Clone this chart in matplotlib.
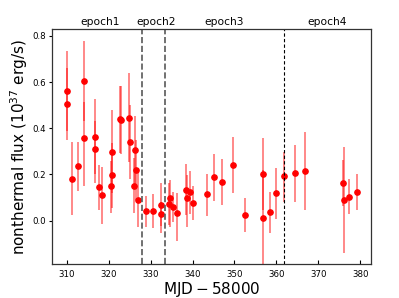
import matplotlib
matplotlib.use("Agg")
import matplotlib.pyplot as plt
import matplotlib.transforms as mtransforms

mjd = [309.9, 309.9, 311.1, 312.7, 314.0, 314.1, 316.8, 316.8, 317.6, 318.4,
       320.6, 320.7, 320.8, 322.6, 322.9, 324.8, 325.0, 326.2, 326.4, 326.0,
       326.9, 328.9, 330.5, 332.4, 332.4, 334.5, 334.4, 335.4, 336.2, 338.4,
       338.6, 339.4, 340.2, 343.4, 345.1, 347.1, 349.6, 352.5, 356.7, 356.9,
       358.5, 359.8, 361.8, 364.5, 366.8, 375.9, 376.1, 377.4, 379.3]
flux = [0.561, 0.505, 0.182, 0.238, 0.605, 0.357, 0.362, 0.310, 0.147, 0.111,
        0.150, 0.196, 0.299, 0.442, 0.435, 0.446, 0.339, 0.305, 0.219, 0.152,
        0.090, 0.041, 0.041, 0.030, 0.067, 0.098, 0.072, 0.061, 0.035, 0.134,
        0.098, 0.123, 0.078, 0.114, 0.188, 0.166, 0.240, 0.025, 0.201, 0.010,
        0.038, 0.119, 0.195, 0.206, 0.216, 0.162, 0.091, 0.104, 0.123]
err_lo = [0.174, 0.156, 0.157, 0.108, 0.175, 0.205, 0.160, 0.145, 0.101, 0.125,
          0.115, 0.140, 0.180, 0.150, 0.148, 0.190, 0.159, 0.148, 0.130, 0.120,
          0.116, 0.070, 0.074, 0.085, 0.090, 0.124, 0.090, 0.065, 0.125, 0.110,
          0.124, 0.094, 0.075, 0.092, 0.103, 0.099, 0.121, 0.073, 0.156, 0.210,
          0.093, 0.112, 0.113, 0.124, 0.170, 0.100, 0.230, 0.075, 0.077]
err_hi = [0.174, 0.155, 0.160, 0.104, 0.173, 0.158, 0.163, 0.120, 0.094, 0.123,
          0.110, 0.140, 0.180, 0.141, 0.148, 0.192, 0.160, 0.148, 0.130, 0.120,
          0.116, 0.066, 0.074, 0.050, 0.095, 0.078, 0.090, 0.065, 0.084, 0.110,
          0.100, 0.092, 0.072, 0.086, 0.101, 0.100, 0.122, 0.072, 0.156, 0.210,
          0.088, 0.108, 0.104, 0.122, 0.169, 0.100, 0.230, 0.075, 0.079]

epoch_bounds = [328.0, 333.3, 361.9]
epoch_labels = ["epoch1", "epoch2", "epoch3", "epoch4"]
epoch_centers = [318.0, 331.4, 347.6, 372.0]

fig = plt.figure(figsize=(3.99, 2.98), dpi=100)
ax = fig.add_axes([0.131, 0.113, 0.800, 0.790])

ax.errorbar(mjd, flux, yerr=[err_lo, err_hi], fmt='none', ecolor='red',
            elinewidth=1.3, alpha=0.5, capsize=0)
ax.plot(mjd, flux, 'o', color='red', ms=3.8, ls='none')

ax.axvline(epoch_bounds[0], color='0.35', ls='--', lw=1.2)
ax.axvline(epoch_bounds[1], color='0.35', ls='--', lw=1.2)
ax.axvline(epoch_bounds[2], color='black', ls=(0, (3, 2)), lw=0.8)

trans = mtransforms.blended_transform_factory(ax.transData, ax.transAxes)
for xc, lab in zip(epoch_centers, epoch_labels):
    ax.text(xc, 1.008, lab, transform=trans, ha='center', va='bottom', fontsize=7.7)

ax.set_xlim(306.5, 382.7)
ax.set_ylim(-0.189, 0.830)
ax.set_xticks([310, 320, 330, 340, 350, 360, 370, 380])
ax.set_yticks([0.0, 0.2, 0.4, 0.6, 0.8])
ax.tick_params(axis='x', direction='in', labelsize=6.2, length=3, width=0.8, pad=4)
ax.tick_params(axis='y', direction='out', labelsize=6.2, length=2.5, width=0.8, pad=2)
for s in ax.spines.values():
    s.set_linewidth(0.9)
    s.set_color('0.2')

ax.set_xlabel(r'$\rm MJD-58000$', fontsize=11, labelpad=1)
ax.set_ylabel(r'nonthermal flux ($10^{37}$ erg/s)', fontsize=11, labelpad=2)

fig.savefig("out.png", dpi=100)
